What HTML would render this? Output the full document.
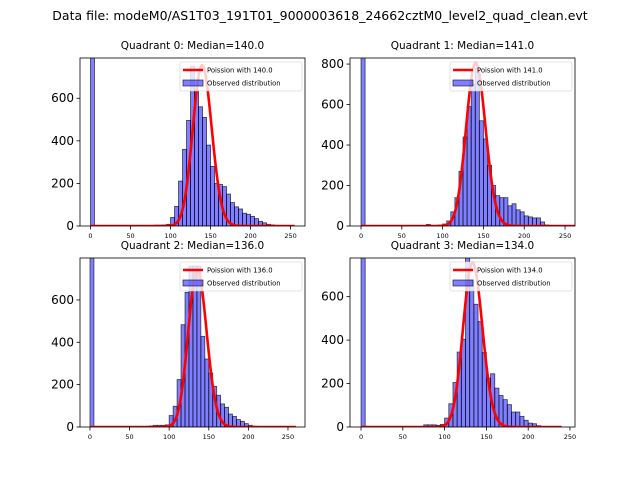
<!DOCTYPE html>
<html><head><meta charset="utf-8">
<style>
body{margin:0;background:#fff;}
svg{display:block;font-family:"DejaVu Sans","Liberation Sans",sans-serif;}
</style></head>
<body>
<svg id="fig" width="640" height="480">
<rect width="640" height="480" fill="#fff"/>
<text x="320" y="20" font-size="12.5" text-anchor="middle">Data file: modeM0/AS1T03_191T01_9000003618_24662cztM0_level2_quad_clean.evt</text>
</svg>
<script>
const medians=[140.0,141.0,136.0,134.0];
const binStarts=[0,70,75,80,85,90,95,100,105,110,115,120,125,130,135,140,145,150,155,160,165,170,175,180,185,190,195,200,205,210,215,220,225,230];
const countsQ0=[1000,3,3,4,4,5,8,40,92,211,360,496,750,640,560,510,380,280,200,195,185,150,110,90,80,60,55,45,35,22,15,8,5,3];
const countsQ1=[1000,0,0,8,3,3,5,10,25,70,140,270,440,590,700,780,520,430,300,200,150,140,140,100,110,80,70,50,45,40,40,20,5,3];
const countsQ2=[1000,0,5,8,8,8,10,54,98,224,483,636,760,760,760,428,321,255,192,150,109,93,61,50,35,27,16,8,4,2,0,0,0,0];
const countsQ3=[1000,0,10,10,10,8,12,41,107,205,345,404,780,677,565,485,343,225,245,179,145,126,103,69,69,49,31,18,15,6,0,0,0,0];
const poissonPeaks=[755,805,740,755];
const yTicks=[[0,200,400,600],[0,200,400,600,800],[0,200,400,600],[0,200,400,600]];
const xTicks=[0,50,100,150,200,250];
const xEnds=[255,262,260,240];
const counts=[countsQ0,countsQ1,countsQ2,countsQ3];
const panels=[
 {x0:80,x1:305,y0:58,y1:226,xmin:-13.1,xmax:268,ymax:789},
 {x0:350,x1:575,y0:58,y1:226,xmin:-13.5,xmax:262.2,ymax:830},
 {x0:80,x1:305,y0:258,y1:427,xmin:-12.6,xmax:271.5,ymax:798},
 {x0:350,x1:575,y0:258,y1:427,xmin:-13.2,xmax:256,ymax:778}
];
const NS="http://www.w3.org/2000/svg";
const svg=document.getElementById('fig');
function mk(tag,attrs,parent){const e=document.createElementNS(NS,tag);for(const k in attrs)e.setAttribute(k,attrs[k]);(parent||svg).appendChild(e);return e;}
function lgamma(n){let s=0;for(let i=2;i<=n;i++)s+=Math.log(i);return s;}
function logpmf(k,l){return k*Math.log(l)-l-lgamma(k);}
panels.forEach((p,i)=>{
 const g=mk('g',{});
 
 
 const cid='clip'+i;
 const cp=mk('clipPath',{id:cid},g);mk('rect',{x:p.x0,y:p.y0,width:p.x1-p.x0,height:p.y1-p.y0},cp);
 const X=v=>p.x0+(v-p.xmin)/(p.xmax-p.xmin)*(p.x1-p.x0);
 const Y=v=>p.y1-v/p.ymax*(p.y1-p.y0);
 const bars=mk('g',{'clip-path':'url(#'+cid+')'},g);
 binStarts.forEach((b,j)=>{
  const c=counts[i][j]; if(!c) return;
  const r=mk('rect',{x:X(b),y:Y(c),width:X(b+5)-X(b),height:Y(0)-Y(c),fill:'rgba(0,0,255,0.5)',stroke:'rgba(0,0,0,0.7)','stroke-width':0.8},bars);
  
  
 });
 const lam=medians[i], ref=logpmf(Math.round(lam),lam);
 let d='';
 for(let k=0;k<=xEnds[i];k++){const v=poissonPeaks[i]*Math.exp(logpmf(k,lam)-ref);d+=(k?'L':'M')+X(k).toFixed(2)+','+Y(v).toFixed(2);}
 const ln=mk('path',{d:d,fill:'none',stroke:'#ff0000','stroke-width':2.6,'clip-path':'url(#'+cid+')'},g);
 
 
 const fr=mk('rect',{x:p.x0,y:p.y0,width:p.x1-p.x0,height:p.y1-p.y0,fill:'none',stroke:'#000','stroke-width':0.8},g);
 
 
 xTicks.forEach(t=>{const x=X(t);mk('line',{x1:x,x2:x,y1:p.y1,y2:p.y1+3.5,stroke:'#000','stroke-width':0.8},g);
  const tx=mk('text',{x:x,y:p.y1+12,'font-size':6.5,'text-anchor':'middle'},g);tx.textContent=t;
  
  });
 yTicks[i].forEach(t=>{const y=Y(t);mk('line',{x1:p.x0-3.5,x2:p.x0,y1:y,y2:y,stroke:'#000','stroke-width':0.8},g);
  const tx=mk('text',{x:p.x0-6,y:y+4,'font-size':12,'text-anchor':'end'},g);tx.textContent=t;
  
  });
 const tt=mk('text',{x:(p.x0+p.x1)/2,y:p.y0-9,'font-size':10.5,'text-anchor':'middle'},g);
 tt.textContent='Quadrant '+i+': Median='+medians[i].toFixed(1);
 
 
 const lg=mk('g',{},g);
 
 
 const lx=p.x1-125,ly=p.y0+4;
 mk('rect',{x:lx,y:ly,width:122,height:29,fill:'rgba(255,255,255,0.8)',stroke:'#ccc','stroke-width':0.6,rx:2},lg);
 mk('line',{x1:lx+3,x2:lx+23,y1:ly+8,y2:ly+8,stroke:'#ff0000','stroke-width':2.6},lg);
 mk('rect',{x:lx+3,y:ly+18,width:20,height:6,fill:'rgba(0,0,255,0.5)',stroke:'rgba(0,0,0,0.7)','stroke-width':0.8},lg);
 const t1=mk('text',{x:lx+27,y:ly+10.5,'font-size':6.8},lg);t1.textContent='Poission with '+medians[i].toFixed(1);
 
 
 const t2=mk('text',{x:lx+27,y:ly+23.5,'font-size':6.8},lg);t2.textContent='Observed distribution';
 
 
});
</script>
</body></html>
